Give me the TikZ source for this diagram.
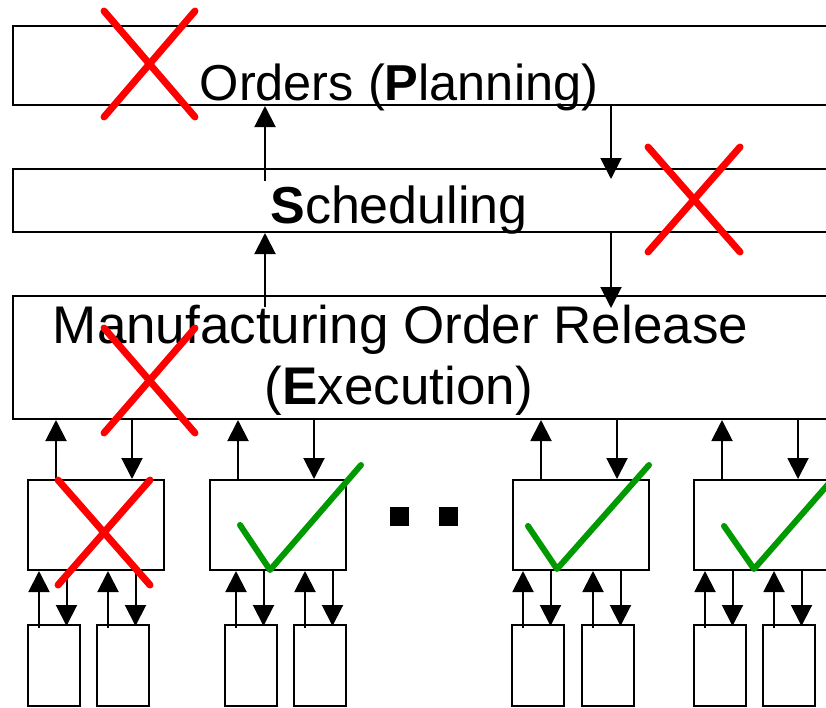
\documentclass[tikz,border=0pt]{standalone}
\usepackage{fontspec}
\setmainfont{Liberation Sans}
\usetikzlibrary{arrows.meta,calc,fit}
\definecolor{checkgreen}{RGB}{0,153,0}
\begin{document}
\begin{tikzpicture}[x=1pt,y=-1pt,
  box/.style={draw, line width=2pt, inner sep=0pt},
  arr/.style={line width=2pt, -{Triangle[length=21pt,width=21pt]}},
  lbl/.style={inner sep=0pt, anchor=base, font=\fontsize{53pt}{61pt}\selectfont},
  cross/.style={draw=red, line width=7pt, line cap=round},
  tick/.style={draw=checkgreen, line width=6pt, line cap=round, line join=round}]
\clip (0,0) rectangle (826,707);

% the three control layers
\node[box, fit={(13,26) (840,105)}] (orders) {};
\node[box, fit={(13,169) (840,232)}] (sched) {};
\node[box, fit={(13,296) (840,419)}] (mor) {};

\node[lbl, font=\fontsize{50.5pt}{61pt}\selectfont] (torders) at (399,100) {Orders (\textbf{P}lanning)};
\node[lbl, font=\fontsize{52pt}{61pt}\selectfont] (tsched) at (399,223) {\textbf{S}cheduling};
\node[lbl] (tmor1) at (400.5,343) {Manufacturing Order Release};
\node[lbl] (tmor2) at (399,404) {(\textbf{E}xecution)};

% work centres
\foreach \i/\l in {1/28,2/210,3/513,4/694}
  \node[box, fit={(\l,480) (\l+136,570)}] (m\i) {};

% machines under each work centre
\foreach \n/\l in {c11/28,c12/97,c21/225,c22/294,c31/512,c32/582,c41/694,c42/763}
  \node[box, fit={(\l,625) (\l+52,706)}] (\n) {};

% flows between the layers
\coordinate (xa) at (265,0);
\coordinate (xb) at (611,0);
\draw[arr] ($(sched.north -| xa)+(0,13)$) -- (orders.south -| xa);
\draw[arr] (orders.south -| xb) -- ($(sched.north -| xb)+(0,11)$);
\draw[arr] ($(mor.north -| xa)+(0,12)$) -- (sched.south -| xa);
\draw[arr] (sched.south -| xb) -- ($(mor.north -| xb)+(0,13)$);

\foreach \i in {1,...,4} {
  \draw[arr] ($(m\i.north west)+(29,0)$) -- ($(m\i.north west |- mor.south)+(29,0)$);
  \draw[arr] ($(m\i.north west |- mor.south)+(105,0)$) -- ($(m\i.north west)+(105,0)$);
}

\foreach \c/\m in {c11/m1,c12/m1,c21/m2,c22/m2,c31/m3,c32/m3,c41/m4,c42/m4} {
  \draw[arr] ($(\c.north west)+(12,4)$) -- ($(\c.north west |- \m.south)+(12,0)$);
  \draw[arr] ($(\c.north west |- \m.south)+(39.5,0)$) -- ($(\c.north west)+(39.5,2)$);
}

% ellipsis between the work centres
\fill (390,507) rectangle (409,526);
\fill (439,507) rectangle (458,526);

% rejected levels
\path[cross] (104,11) -- (195,117) (195,11) -- (104,117);
\path[cross] (648,147) -- (740,252) (740,147) -- (648,252);
\path[cross] (104,328) -- (195,433) (195,328) -- (104,433);
\path[cross] (58,480) -- (150,585) (150,480) -- (58,585);

% accepted work centres
\path[tick] (240,525) -- (270,570) -- (361,465);
\path[tick] (528,526) -- (557,569) -- (649,465);
\path[tick] (724,526) -- (754,569) -- (845,465);
\end{tikzpicture}
\end{document}
